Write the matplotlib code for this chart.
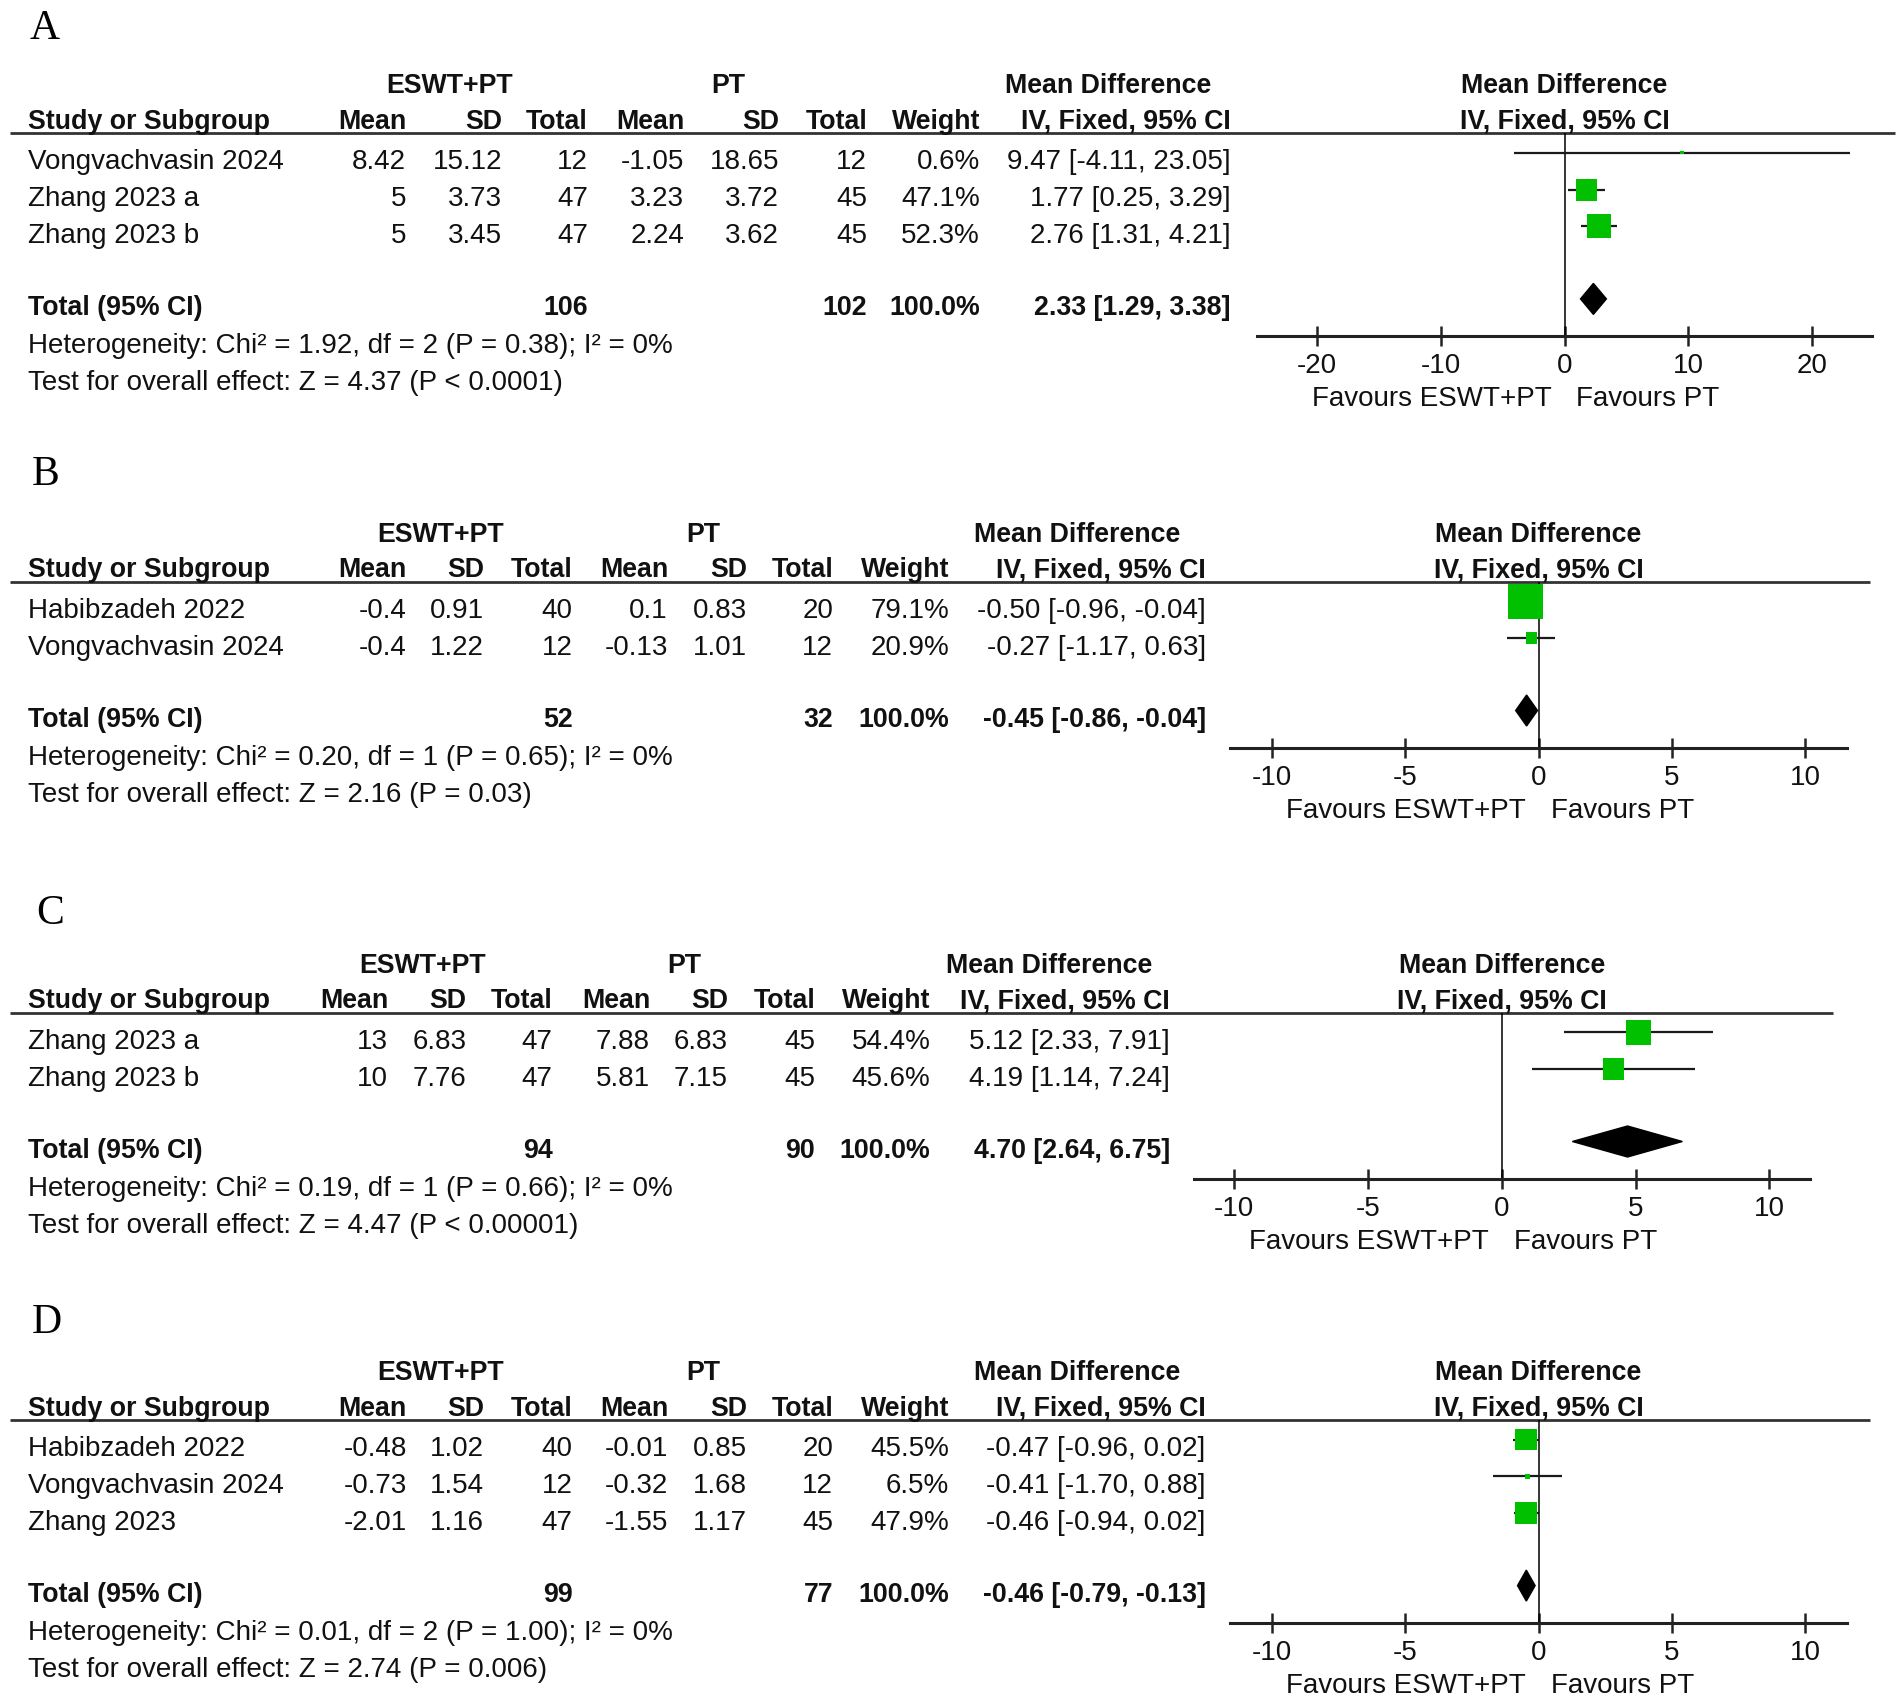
import matplotlib.pyplot as plt

W, H = 1902, 1701
ROW = 36.8            # pixel distance between study rows
GREEN = "#00c000"
INK = "#111111"
FS = 20.0             # regular text
FSB = 19.3            # bold text

plt.rcParams["font.family"] = ["Liberation Sans", "DejaVu Sans"]
plt.rcParams["axes.unicode_minus"] = False

# ---------------- Panel A ----------------
a_study = ["Vongvachvasin 2024", "Zhang 2023 a", "Zhang 2023 b"]
a_mean1 = [8.42, 5, 5]
a_sd1 = [15.12, 3.73, 3.45]
a_n1 = [12, 47, 47]
a_mean2 = [-1.05, 3.23, 2.24]
a_sd2 = [18.65, 3.72, 3.62]
a_n2 = [12, 45, 45]
a_weight = [0.6, 47.1, 52.3]
a_md = [9.47, 1.77, 2.76]
a_lo = [-4.11, 0.25, 1.31]
a_hi = [23.05, 3.29, 4.21]
a_tot_n = [106, 102]
a_tot_md = [2.33, 1.29, 3.38]
a_het = [1.92, 2, 0.38, 0]          # Chi2, df, P, I2
a_test = [4.37, "P < 0.0001"]
a_ticks = [-20, -10, 0, 10, 20]

# ---------------- Panel B ----------------
b_study = ["Habibzadeh 2022", "Vongvachvasin 2024"]
b_mean1 = [-0.4, -0.4]
b_sd1 = [0.91, 1.22]
b_n1 = [40, 12]
b_mean2 = [0.1, -0.13]
b_sd2 = [0.83, 1.01]
b_n2 = [20, 12]
b_weight = [79.1, 20.9]
b_md = [-0.50, -0.27]
b_lo = [-0.96, -1.17]
b_hi = [-0.04, 0.63]
b_tot_n = [52, 32]
b_tot_md = [-0.45, -0.86, -0.04]
b_het = [0.20, 1, 0.65, 0]
b_test = [2.16, "P = 0.03"]
b_ticks = [-10, -5, 0, 5, 10]

# ---------------- Panel C ----------------
c_study = ["Zhang 2023 a", "Zhang 2023 b"]
c_mean1 = [13, 10]
c_sd1 = [6.83, 7.76]
c_n1 = [47, 47]
c_mean2 = [7.88, 5.81]
c_sd2 = [6.83, 7.15]
c_n2 = [45, 45]
c_weight = [54.4, 45.6]
c_md = [5.12, 4.19]
c_lo = [2.33, 1.14]
c_hi = [7.91, 7.24]
c_tot_n = [94, 90]
c_tot_md = [4.70, 2.64, 6.75]
c_het = [0.19, 1, 0.66, 0]
c_test = [4.47, "P < 0.00001"]
c_ticks = [-10, -5, 0, 5, 10]

# ---------------- Panel D ----------------
d_study = ["Habibzadeh 2022", "Vongvachvasin 2024", "Zhang 2023"]
d_mean1 = [-0.48, -0.73, -2.01]
d_sd1 = [1.02, 1.54, 1.16]
d_n1 = [40, 12, 47]
d_mean2 = [-0.01, -0.32, -1.55]
d_sd2 = [0.85, 1.68, 1.17]
d_n2 = [20, 12, 45]
d_weight = [45.5, 6.5, 47.9]
d_md = [-0.47, -0.41, -0.46]
d_lo = [-0.96, -1.70, -0.94]
d_hi = [0.02, 0.88, 0.02]
d_tot_n = [99, 77]
d_tot_md = [-0.46, -0.79, -0.13]
d_het = [0.01, 2, 1.00, 0]
d_test = [2.74, "P = 0.006"]
d_ticks = [-10, -5, 0, 5, 10]


def fmt(v):
    return f"{v:g}"


fig = plt.figure(figsize=(W / 100, H / 100), dpi=100)
bg = fig.add_axes([0, 0, 1, 1])
bg.set_xlim(0, W)
bg.set_ylim(H, 0)
bg.axis("off")


def txt(x, y, s, ha="left", bold=False):
    bg.text(x, y, s, ha=ha, va="baseline", fontsize=FSB if bold else FS,
            color=INK, weight="bold" if bold else "normal")


def panel(letter, letter_xy, line_y, line_x1, cols, groups, fx0, fx1, xmax, ticks,
          study, m1, s1, n1, m2, s2, n2, wt, md, lo, hi, tot_n, tot_md, het, test):
    k = len(study)
    top = -19.5 / ROW
    tot_row = k - 1 + 72.5 / ROW
    bottom = tot_row + 37.5 / ROW
    axis_y = line_y + (bottom - top) * ROW
    fc = (fx0 + fx1) / 2

    def ypx(r):
        return line_y + (r - top) * ROW

    bg.text(letter_xy[0], letter_xy[1], letter, family="Liberation Serif",
            fontsize=30, va="baseline", ha="left", color="black")
    bg.plot([10, line_x1], [line_y, line_y], color="#333333", lw=2,
            solid_capstyle="butt")

    # headers
    h1 = line_y - 40
    h2 = line_y - 4.5
    for x, t in zip(groups, ["ESWT+PT", "PT", "Mean Difference"]):
        txt(x, h1, t, ha="center", bold=True)
    txt(fc, h1, "Mean Difference", ha="center", bold=True)
    txt(28, h2, "Study or Subgroup", bold=True)
    heads = ["Mean", "SD", "Total", "Mean", "SD", "Total", "Weight", "IV, Fixed, 95% CI"]
    for x, t in zip(cols, heads):
        txt(x, h2, t, ha="right", bold=True)
    txt(fc, h2, "IV, Fixed, 95% CI", ha="center", bold=True)

    # study rows
    for i in range(k):
        y = ypx(i) + 16.5
        txt(28, y, study[i])
        vals = [fmt(m1[i]), fmt(s1[i]), str(n1[i]), fmt(m2[i]), fmt(s2[i]),
                str(n2[i]), f"{wt[i]:.1f}%",
                f"{md[i]:.2f} [{lo[i]:.2f}, {hi[i]:.2f}]"]
        for x, t in zip(cols, vals):
            txt(x, y, t, ha="right")

    # total row
    ty = ypx(tot_row) + 16.5
    txt(28, ty, "Total (95% CI)", bold=True)
    txt(cols[2], ty, str(tot_n[0]), ha="right", bold=True)
    txt(cols[5], ty, str(tot_n[1]), ha="right", bold=True)
    txt(cols[6], ty, "100.0%", ha="right", bold=True)
    txt(cols[7], ty, f"{tot_md[0]:.2f} [{tot_md[1]:.2f}, {tot_md[2]:.2f}]",
        ha="right", bold=True)
    txt(28, ty - 16.5 + 54,
        f"Heterogeneity: Chi² = {het[0]:.2f}, df = {het[1]} (P = {het[2]:.2f}); I² = {het[3]}%")
    txt(28, ty - 16.5 + 91, f"Test for overall effect: Z = {test[0]:.2f} ({test[1]})")

    # forest plot
    ax = fig.add_axes([fx0 / W, 1 - axis_y / H, (fx1 - fx0) / W, (axis_y - line_y) / H])
    ax.set_xlim(-xmax, xmax)
    ax.set_ylim(bottom, top)
    ax.patch.set_visible(False)
    for s in ["top", "left", "right"]:
        ax.spines[s].set_visible(False)
    ax.spines["bottom"].set_linewidth(2.2)
    ax.spines["bottom"].set_color("#222222")
    ax.set_yticks([])
    ax.set_xticks(ticks)
    ax.tick_params(axis="x", direction="inout", length=14, width=1.8, pad=5,
                   labelsize=FS, colors="#222222", labelcolor=INK)
    ax.axvline(0, color="black", lw=1.1)

    rows = list(range(k))
    ax.hlines(rows, lo, hi, color="#1a1a1a", lw=1.6, zorder=2)
    sizes = [((3 + 0.4 * w) * 0.72) ** 2 for w in wt]
    ax.scatter(md, rows, marker="s", s=sizes, color=GREEN, linewidths=0, zorder=3)
    h = 15.5 / ROW
    ax.fill([tot_md[1], tot_md[0], tot_md[2], tot_md[0]],
            [tot_row, tot_row - h, tot_row, tot_row + h], color="black", zorder=3)

    ax.annotate("Favours ESWT+PT", xy=(0, 0), xycoords=("data", "axes fraction"),
                xytext=(-13, -70), textcoords="offset pixels", ha="right",
                va="baseline", fontsize=FS, color=INK)
    ax.annotate("Favours PT", xy=(0, 0), xycoords=("data", "axes fraction"),
                xytext=(12, -70), textcoords="offset pixels", ha="left",
                va="baseline", fontsize=FS, color=INK)


cols_a = [406, 502, 588, 684, 779, 867, 980, 1231]
cols_bd = [406.7, 484, 572.6, 668, 747, 833, 949, 1205.7]
cols_c = [388, 466.5, 552.6, 650, 728, 815, 930.6, 1170]

panel("A", (30, 39), 133.3, 1895, cols_a, [450, 728, 1108], 1257, 1872, 24.8, a_ticks,
      a_study, a_mean1, a_sd1, a_n1, a_mean2, a_sd2, a_n2, a_weight, a_md, a_lo, a_hi,
      a_tot_n, a_tot_md, a_het, a_test)
panel("B", (32, 485), 581.7, 1870, cols_bd, [441, 703, 1077], 1230.4, 1846.8, 11.55, b_ticks,
      b_study, b_mean1, b_sd1, b_n1, b_mean2, b_sd2, b_n2, b_weight, b_md, b_lo, b_hi,
      b_tot_n, b_tot_md, b_het, b_test)
panel("C", (36, 924), 1012.7, 1833, cols_c, [422.6, 684, 1049.6], 1194, 1809.5, 11.5, c_ticks,
      c_study, c_mean1, c_sd1, c_n1, c_mean2, c_sd2, c_n2, c_weight, c_md, c_lo, c_hi,
      c_tot_n, c_tot_md, c_het, c_test)
panel("D", (32, 1333), 1420, 1870, cols_bd, [441, 703, 1077], 1230.4, 1846.8, 11.55, d_ticks,
      d_study, d_mean1, d_sd1, d_n1, d_mean2, d_sd2, d_n2, d_weight, d_md, d_lo, d_hi,
      d_tot_n, d_tot_md, d_het, d_test)

fig.savefig("out.png", dpi=100)
